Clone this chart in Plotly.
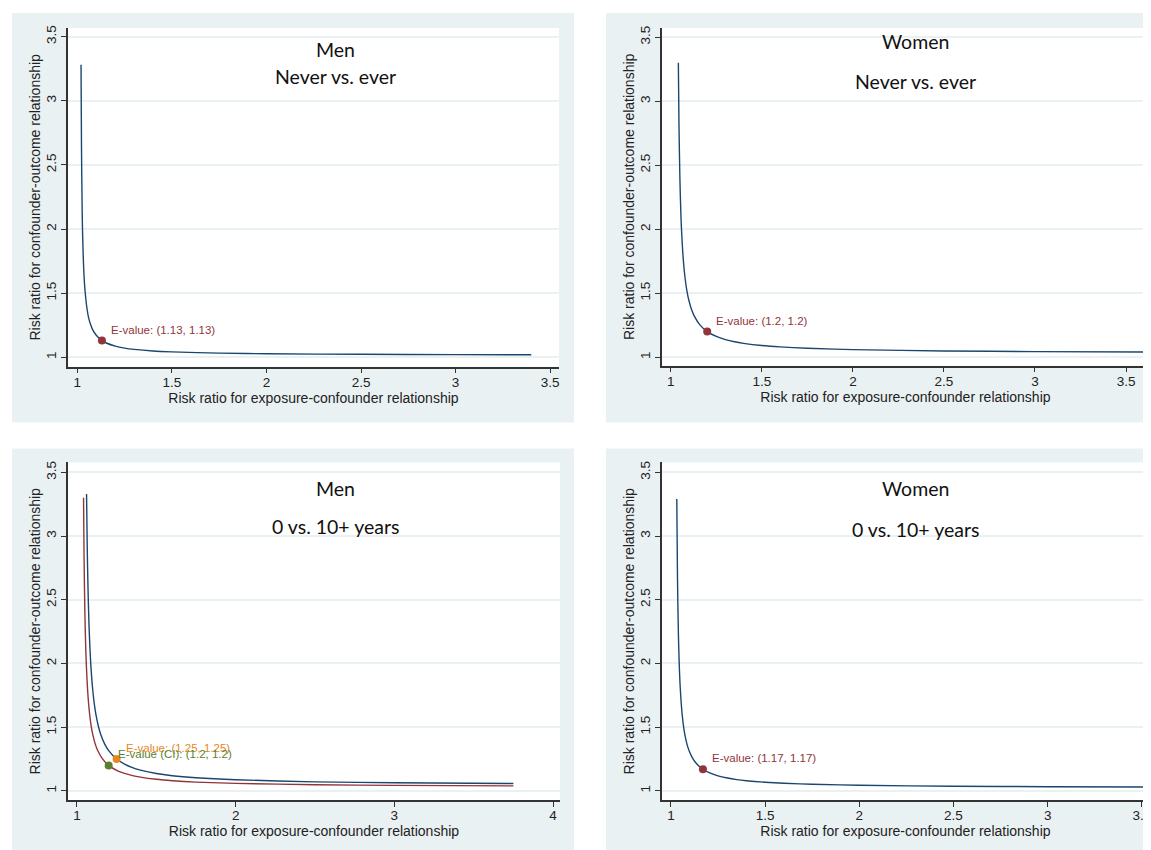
import plotly.graph_objects as go

# page is 1151x850; the HTML body adds an 8px margin, so the figure is sized to fit inside
OFF = 8
W, H = 1151 - OFF, 850 - OFF

# ---------------- data ----------------
# Panel 1: Men, never vs. ever
p1_x = [1.0195, 1.022, 1.025, 1.027, 1.03, 1.035, 1.04, 1.05, 1.06, 1.07, 1.08, 1.10, 1.13, 1.15, 1.2, 1.25, 1.3, 1.4, 1.5, 1.75, 2.0, 2.5, 3.0, 3.4]
p1_y = [3.28, 2.62, 2.20, 2.013, 1.84, 1.643, 1.53, 1.39, 1.305, 1.256, 1.2175, 1.172, 1.131, 1.113, 1.087, 1.071, 1.061, 1.0486, 1.042, 1.032, 1.027, 1.023, 1.020, 1.019]
p1_pt = (1.13, 1.13)
p1_lbl = "E-value: (1.13, 1.13)"

# Panel 2: Women, never vs. ever
p2_x = [1.0416, 1.045, 1.05, 1.055, 1.06, 1.07, 1.08, 1.09, 1.10, 1.115, 1.13, 1.16, 1.2, 1.25, 1.3, 1.35, 1.4, 1.5, 1.6, 1.75, 2.0, 2.5, 3.0, 3.6]
p2_y = [3.30, 2.82, 2.40, 2.140, 1.966, 1.739, 1.601, 1.507, 1.441, 1.3686, 1.319, 1.2525, 1.200, 1.1615, 1.137, 1.120, 1.108, 1.091, 1.080, 1.069, 1.059, 1.0486, 1.0435, 1.040]
p2_pt = (1.2, 1.2)
p2_lbl = "E-value: (1.2, 1.2)"

# Panel 3: Men, 0 vs. 10+ years (estimate curve and CI curve)
p3_est_x = [1.0606, 1.065, 1.07, 1.075, 1.08, 1.085, 1.09, 1.10, 1.11, 1.12, 1.135, 1.15, 1.175, 1.2, 1.25, 1.3, 1.35, 1.4, 1.5, 1.6, 1.75, 2.0, 2.5, 3.0, 3.75]
p3_est_y = [3.33, 2.90, 2.574, 2.344, 2.174, 2.043, 1.940, 1.786, 1.677, 1.596, 1.507, 1.442, 1.367, 1.316, 1.250, 1.210, 1.182, 1.163, 1.136, 1.119, 1.103, 1.087, 1.071, 1.064, 1.058]
p3_ci_x = [1.0416, 1.045, 1.05, 1.055, 1.06, 1.07, 1.08, 1.09, 1.10, 1.115, 1.13, 1.16, 1.2, 1.25, 1.3, 1.35, 1.4, 1.5, 1.6, 1.75, 2.0, 2.5, 3.0, 3.75]
p3_ci_y = [3.30, 2.82, 2.40, 2.140, 1.966, 1.739, 1.601, 1.507, 1.441, 1.3686, 1.319, 1.2525, 1.200, 1.1615, 1.137, 1.120, 1.108, 1.091, 1.080, 1.069, 1.059, 1.0486, 1.0435, 1.039]
p3_est_pt = (1.25, 1.25)
p3_ci_pt = (1.2, 1.2)
p3_est_lbl = "E-value: (1.25, 1.25)"
p3_ci_lbl = "E-value (CI): (1.2, 1.2)"

# Panel 4: Women, 0 vs. 10+ years
p4_x = [1.0313, 1.035, 1.04, 1.045, 1.05, 1.06, 1.07, 1.08, 1.09, 1.10, 1.115, 1.13, 1.15, 1.17, 1.2, 1.25, 1.3, 1.35, 1.4, 1.5, 1.6, 1.75, 2.0, 2.5, 3.0, 3.515]
p4_y = [3.29, 2.668, 2.221, 1.962, 1.799, 1.596, 1.4766, 1.399, 1.3436, 1.303, 1.2574, 1.225, 1.1931, 1.170, 1.145, 1.118, 1.101, 1.0887, 1.080, 1.068, 1.0597, 1.052, 1.044, 1.0365, 1.0328, 1.0304]
p4_pt = (1.17, 1.17)
p4_lbl = "E-value: (1.17, 1.17)"

titles = [("Men", "Never vs. ever"), ("Women", "Never vs. ever"),
          ("Men", "0 vs. 10+ years"), ("Women", "0 vs. 10+ years")]

yticks = [1, 1.5, 2, 2.5, 3, 3.5]
xticks_a = [1, 1.5, 2, 2.5, 3, 3.5]
xticks_b = [1, 2, 3, 4]

# ---------------- styling ----------------
NAVY = "#1A476F"
MAROON = "#90353B"
ORANGE = "#E8871E"
GREEN = "#5B7F2B"
BG = "#EAF1F3"
GRID = "#EAF1F3"
AX = "#333333"
FONT = "Liberation Sans, Arial, sans-serif"
TFONT = "Lato, Open Sans, sans-serif"

def px(x):
    return (x - OFF) / W

def py(y):
    return 1 - (y - OFF) / H

# panel geometry in page pixels: (bg box), (plot box), xrange, yrange
panels = [
    dict(bg=(12, 10, 575, 421), plot=(68, 25, 560, 365), xr=[0.95, 3.547], yr=[0.926, 3.568], xt=xticks_a, tx=336, ty=(46.5, 74)),
    dict(bg=(607, 10, 1160, 421), plot=(663, 25, 1151, 364), xr=[0.951, 3.626], yr=[0.933, 3.572], xt=xticks_a, tx=917, ty=(39, 79)),
    dict(bg=(12, 447, 575, 860), plot=(68, 461, 561, 800), xr=[0.943, 4.044], yr=[0.927, 3.578], xt=xticks_b, tx=336, ty=(487, 525)),
    dict(bg=(607, 447, 1160, 860), plot=(663, 461, 1151, 800), xr=[0.952, 3.538], yr=[0.927, 3.578], xt=xticks_a, tx=917, ty=(487, 528)),
]

fig = go.Figure()

def line(x, y, color, ax):
    fig.add_trace(go.Scatter(x=x, y=y, mode="lines",
                             line=dict(color=color, width=1.4, shape="spline", smoothing=0.8),
                             xaxis="x" + ax, yaxis="y" + ax, showlegend=False, hoverinfo="skip"))

def point(pt, color, ax):
    fig.add_trace(go.Scatter(x=[pt[0]], y=[pt[1]], mode="markers", marker=dict(color=color, size=8),
                             xaxis="x" + ax, yaxis="y" + ax, showlegend=False))

def label(pt, text, color, ax):
    fig.add_annotation(x=pt[0], y=pt[1], xref="x" + ax, yref="y" + ax, text=text, showarrow=False,
                       xanchor="left", yanchor="middle", xshift=7, yshift=11,
                       font=dict(family=FONT, size=11.5, color=color))

line(p1_x, p1_y, NAVY, "")
point(p1_pt, MAROON, "")
label(p1_pt, p1_lbl, MAROON, "")

line(p2_x, p2_y, NAVY, "2")
point(p2_pt, MAROON, "2")
label(p2_pt, p2_lbl, MAROON, "2")

line(p3_est_x, p3_est_y, NAVY, "3")
line(p3_ci_x, p3_ci_y, MAROON, "3")
point(p3_est_pt, ORANGE, "3")
point(p3_ci_pt, GREEN, "3")
label(p3_est_pt, p3_est_lbl, ORANGE, "3")
label(p3_ci_pt, p3_ci_lbl, GREEN, "3")

line(p4_x, p4_y, NAVY, "4")
point(p4_pt, MAROON, "4")
label(p4_pt, p4_lbl, MAROON, "4")

shapes = []
layout_axes = {}
for i, p in enumerate(panels):
    x0, y0, x1, y1 = p["bg"]
    shapes.append(dict(type="rect", xref="paper", yref="paper", x0=px(x0), x1=px(x1), y0=py(y1), y1=py(y0),
                       fillcolor=BG, line=dict(width=0), layer="below"))
    a0, b0, a1, b1 = p["plot"]
    shapes.append(dict(type="rect", xref="paper", yref="paper", x0=px(a0), x1=px(a1), y0=py(b1), y1=py(b0),
                       fillcolor="white", line=dict(width=0), layer="below"))
    sfx = "" if i == 0 else str(i + 1)
    layout_axes["xaxis" + sfx] = dict(
        domain=[px(a0), min(1.0, px(a1))], anchor="y" + sfx, range=p["xr"], tickvals=p["xt"],
        ticktext=[f"{v:g}" for v in p["xt"]], showgrid=False, zeroline=False,
        showline=True, linecolor=AX, linewidth=1.5, ticks="outside", ticklen=5, tickcolor=AX, tickwidth=1.2,
        ticklabeloverflow="allow", ticklabelstandoff=-3,
        tickfont=dict(family=FONT, size=13.5, color="#222"),
        title=dict(text="Risk ratio for exposure-confounder relationship", standoff=0,
                   font=dict(family=FONT, size=14, color="#222")))
    layout_axes["yaxis" + sfx] = dict(
        domain=[py(b1), py(b0)], anchor="x" + sfx, range=p["yr"], tickvals=yticks,
        ticktext=[f"{v:g}" for v in yticks], tickangle=-90, showgrid=True, gridcolor=GRID, gridwidth=1.5,
        zeroline=False, showline=True, linecolor=AX, linewidth=1.5, ticks="outside", ticklen=5,
        tickcolor=AX, tickwidth=1.2, tickfont=dict(family=FONT, size=13.5, color="#222"),
        title=dict(text="Risk ratio for confounder-outcome relationship", standoff=0,
                   font=dict(family=FONT, size=14, color="#222")))
    t1, t2 = titles[i]
    fig.add_annotation(x=px(p["tx"]), y=py(p["ty"][0]), xref="paper", yref="paper", text=t1, showarrow=False,
                       xanchor="center", yanchor="middle", font=dict(family=TFONT, size=19.5, color="#111"))
    fig.add_annotation(x=px(p["tx"]), y=py(p["ty"][1]), xref="paper", yref="paper", text=t2, showarrow=False,
                       xanchor="center", yanchor="middle", font=dict(family=TFONT, size=19.5, color="#111"))

fig.update_layout(width=W, height=H, margin=dict(l=0, r=0, t=0, b=0), paper_bgcolor="white",
                  plot_bgcolor="white", shapes=shapes, showlegend=False, **layout_axes)

fig.write_html("out.html")
